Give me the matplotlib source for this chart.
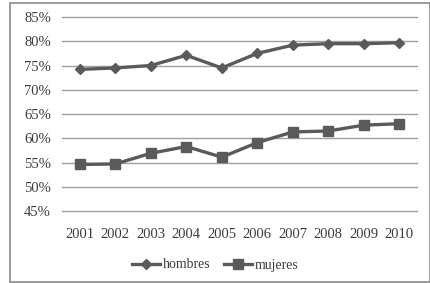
import matplotlib.pyplot as plt
from matplotlib.patches import Rectangle

years = ['2001', '2002', '2003', '2004', '2005', '2006', '2007', '2008', '2009', '2010']
hombres = [74.2, 74.5, 75.0, 77.1, 74.5, 77.5, 79.2, 79.5, 79.5, 79.7]
mujeres = [54.6, 54.7, 56.9, 58.3, 56.1, 59.1, 61.3, 61.5, 62.7, 63.0]
yticks = [45, 50, 55, 60, 65, 70, 75, 80, 85]

plt.rcParams['font.family'] = ['Liberation Serif', 'DejaVu Serif']

fig = plt.figure(figsize=(4.31, 2.83), dpi=100)
ax = fig.add_axes([0.144, 0.2544, 0.8235, 0.6855])

# outer frame around the chart
fig.patches.append(Rectangle((10 / 431, 1 - 282 / 283), 420 / 431, 279 / 283,
                             transform=fig.transFigure, fill=False,
                             edgecolor='#8a8a8a', linewidth=1.2))

x = range(len(years))
ax.plot(x, hombres, color='#5a5a5a', linewidth=2.4, marker='D', markersize=5.5,
        label='hombres')
ax.plot(x, mujeres, color='#5a5a5a', linewidth=2.4, marker='s', markersize=7.5,
        label='mujeres')

ax.set_xlim(-0.5, len(years) - 0.5)
ax.set_ylim(45, 85)
ax.set_yticks(yticks)
ax.set_yticklabels([f'{v}%' for v in yticks])
ax.set_xticks(list(x))
ax.set_xticklabels(years)
ax.grid(axis='y', color='#a0a0a0', linewidth=1)
for gl in ax.get_ygridlines():
    gl.set_clip_on(False)
ax.set_axisbelow(True)
for s in ax.spines.values():
    s.set_visible(False)
ax.tick_params(length=0, labelsize=10.5, colors='#3c3c3c', pad=8)
ax.tick_params(axis='x', pad=12)

fig.legend(loc='center', bbox_to_anchor=(0.5, 1 - 265 / 283), ncol=2,
           frameon=False, fontsize=10, handlelength=2.0, columnspacing=1.0,
           handletextpad=0.2, labelcolor='#3c3c3c')

fig.savefig('out.png', dpi=100)
